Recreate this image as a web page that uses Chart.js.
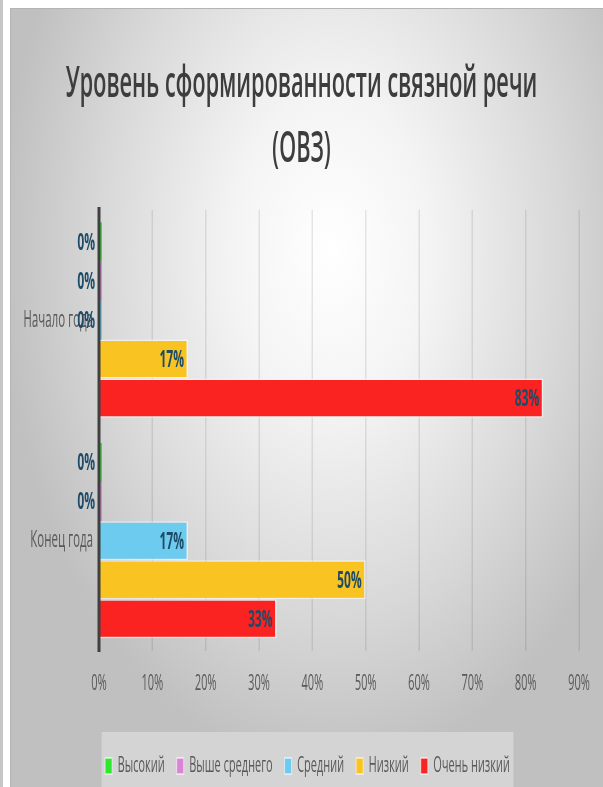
<!DOCTYPE html>
<html>
<head>
<meta charset="utf-8">
<script src="https://cdn.jsdelivr.net/npm/chart.js@4.4.1/dist/chart.umd.min.js"></script>
<style>
html,body{margin:0;padding:0;background:#ffffff;width:603px;height:787px;overflow:hidden;}
#strip{position:absolute;left:0;top:0;width:3px;height:787px;background:#c6c6c6;}
#frame{position:absolute;left:10px;top:8px;width:593px;height:779px;box-sizing:border-box;
  border-left:1px solid #b4b4b4;border-top:1px solid #b4b4b4;
  background:radial-gradient(330px 520px at 320px 242px,#ffffff 0%,#f4f4f4 30%,#d8d8d8 70%,#c0c0c0 100%);}
#wrap{position:absolute;left:0;top:0;width:1206px;height:787px;transform:scaleX(0.5);transform-origin:0 0;}
</style>
</head>
<body>
<div id="strip"></div>
<div id="frame"></div>
<div id="wrap"><canvas id="c" width="1206" height="787"></canvas></div>
<script>
// ---- data ----
const categories = ['Начало года', 'Конец года'];
const seriesNames = ['Высокий', 'Выше среднего', 'Средний', 'Низкий', 'Очень низкий'];
const vysokiy = [0, 0];
const vysheSrednego = [0, 0];
const sredniy = [0, 16.7];
const nizkiy = [16.7, 50];
const ochenNizkiy = [83.3, 33.3];
const xTickValues = [0, 10, 20, 30, 40, 50, 60, 70, 80, 90];
const titleLines = ['Уровень сформированности связной речи', '(ОВЗ)'];

const seriesData = [vysokiy, vysheSrednego, sredniy, nizkiy, ochenNizkiy];
const seriesColors = ['#2ee82e', '#d984d6', '#6ecbf0', '#f9c322', '#fb2222'];

const FONT = '"Open Sans", "Noto Sans", sans-serif';

const datasets = seriesNames.map((name, i) => ({
  label: name,
  data: seriesData[i],
  backgroundColor: seriesColors[i],
  borderColor: 'rgba(255,255,255,0.55)',
  borderWidth: (c) => (c.raw ? {top: 1.5, bottom: 1.5, right: 3, left: 0} : 0),
  borderSkipped: 'start',
  minBarLength: 6,
  categoryPercentage: 0.885,
  barPercentage: 1.0
}));

const legendBox = {
  id: 'legendBox',
  afterLayout(chart) {
    const lg = chart.legend;
    if (lg) { lg.left += 12; lg.right += 12; }
  },
  beforeDraw(chart) {
    const lg = chart.legend;
    if (!lg || !lg.lineWidths) return;
    const pad = lg.options.labels.padding;
    const w = lg.lineWidths[0] - pad + 14;
    const cx = (lg.left + lg.right) / 2;
    const ctx = chart.ctx;
    ctx.save();
    ctx.fillStyle = '#d4d4d4';
    ctx.fillRect(cx - w / 2, lg.top + 1, w, chart.height - lg.top - 1);
    ctx.restore();
  }
};

const valueLabels = {
  id: 'valueLabels',
  afterDraw(chart) {
    const ctx = chart.ctx;
    const xs = chart.scales.x;
    ctx.save();
    ctx.font = '700 24px ' + FONT;
    ctx.fillStyle = '#1d4b68';
    ctx.textAlign = 'right';
    ctx.textBaseline = 'middle';
    chart.data.datasets.forEach((ds, di) => {
      const meta = chart.getDatasetMeta(di);
      meta.data.forEach((bar, j) => {
        const v = ds.data[j];
        ctx.fillText(Math.round(v) + '%', xs.getPixelForValue(v) - 8, bar.y + 1);
      });
    });
    ctx.restore();
  }
};

new Chart(document.getElementById('c'), {
  type: 'bar',
  data: { labels: categories, datasets },
  options: {
    indexAxis: 'y',
    responsive: false,
    animation: false,
    devicePixelRatio: 1,
    layout: { padding: 0 },
    scales: {
      x: {
        type: 'linear',
        min: xTickValues[0],
        max: xTickValues[xTickValues.length - 1],
        afterBuildTicks: (s) => { s.ticks = xTickValues.map(v => ({value: v})); },
        ticks: {
          callback: (v) => v + '%',
          color: '#595959',
          font: { family: FONT, size: 22 },
          padding: 20
        },
        grid: { color: 'rgba(0,0,0,0.09)', lineWidth: 3, drawTicks: false },
        border: { display: false },
        afterFit: (s) => { s.height = 80; s.paddingRight = 48; }
      },
      y: {
        ticks: {
          color: '#595959',
          font: { family: FONT, size: 23 },
          padding: 12
        },
        grid: { display: false, drawTicks: false },
        border: { display: true, color: '#404040', width: 6, z: 1 },
        afterFit: (s) => { s.width = 198; s.paddingTop = 0; s.paddingBottom = 0; }
      }
    },
    plugins: {
      title: {
        display: true,
        text: titleLines,
        color: '#3d3d3d',
        font: { family: FONT, size: 43.5, weight: 600, lineHeight: 1.49 },
        padding: { top: 52, bottom: 28 }
      },
      legend: {
        position: 'bottom',
        labels: {
          color: '#595959',
          font: { family: FONT, size: 22 },
          boxWidth: 14,
          boxHeight: 16,
          padding: 24,
          generateLabels(chart) {
            const items = Chart.defaults.plugins.legend.labels.generateLabels(chart);
            items.forEach(it => { it.lineWidth = 2; it.strokeStyle = 'rgba(255,255,255,0.55)'; });
            return items;
          }
        }
      },
      tooltip: { enabled: false }
    }
  },
  plugins: [legendBox, valueLabels]
});
</script>
</body>
</html>
